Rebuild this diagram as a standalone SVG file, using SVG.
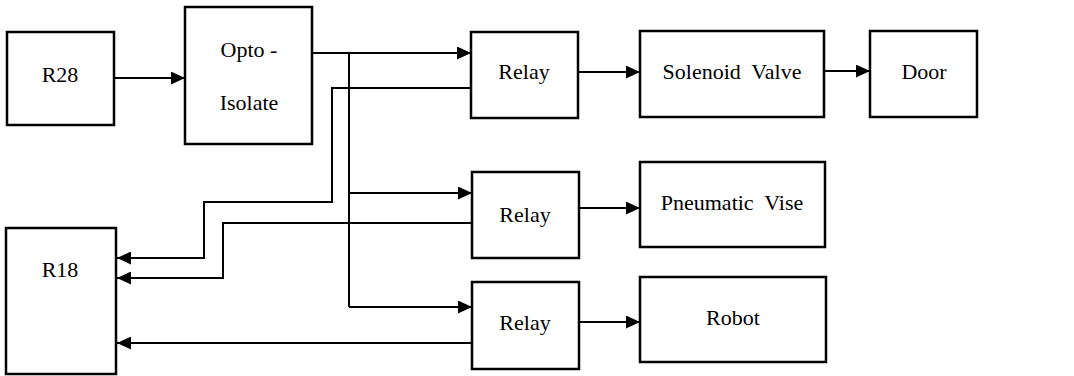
<svg xmlns="http://www.w3.org/2000/svg" width="1074" height="376" viewBox="0 0 1074 376">
  <style>
    .box { fill: #ffffff; stroke: #000000; stroke-width: 2.5; }
    .lbl { font-size: 22px; fill: #000000; text-anchor: middle; }
    .wire { fill: none; stroke: #000000; stroke-width: 2; }
    .arr { marker-end: url(#head); }
  </style>
  <defs>
    <marker id="head" markerUnits="userSpaceOnUse" markerWidth="15" markerHeight="13" refX="14" refY="6.5" orient="auto">
      <path d="M0,0 L14,6.5 L0,13 Z" fill="#000000"/>
    </marker>
  </defs>
  <rect width="1074" height="376" fill="#ffffff"/>

  <g id="connectors">
    <path class="wire arr" d="M114,78 H185"/>
    <path class="wire arr" d="M312,53 H471"/>
    <path class="wire" d="M349,53 V307"/>
    <path class="wire arr" d="M349,193 H472"/>
    <path class="wire arr" d="M349,307 H472"/>
    <path class="wire arr" d="M471,88 H332 V202 H204 V258 H117"/>
    <path class="wire arr" d="M472,223 H223 V278 H117"/>
    <path class="wire arr" d="M472,343 H117"/>
    <path class="wire arr" d="M578,72 H640"/>
    <path class="wire arr" d="M824,71 H870"/>
    <path class="wire arr" d="M579,208 H640"/>
    <path class="wire arr" d="M579,322 H640"/>
  </g>

  <g id="r28">
    <rect class="box" x="7" y="32" width="107" height="93"/>
    <text class="lbl" x="60" y="82" font-family="Liberation Serif">R28</text>
  </g>
  <g id="opto">
    <rect class="box" x="185" y="7" width="127" height="137"/>
    <text class="lbl" x="249" y="57" font-family="Liberation Serif">Opto -</text>
    <text class="lbl" x="249" y="110" font-family="Liberation Serif">Isolate</text>
  </g>
  <g id="r18">
    <rect class="box" x="6" y="228" width="110" height="146"/>
    <text class="lbl" x="60" y="277" font-family="Liberation Serif">R18</text>
  </g>
  <g id="relay1">
    <rect class="box" x="471" y="32" width="107" height="86"/>
    <text class="lbl" x="524" y="79" font-family="Liberation Serif">Relay</text>
  </g>
  <g id="relay2">
    <rect class="box" x="472" y="172" width="107" height="86"/>
    <text class="lbl" x="525" y="222" font-family="Liberation Serif">Relay</text>
  </g>
  <g id="relay3">
    <rect class="box" x="472" y="282" width="107" height="87"/>
    <text class="lbl" x="525" y="330" font-family="Liberation Serif">Relay</text>
  </g>
  <g id="solenoid">
    <rect class="box" x="640" y="31" width="184" height="86"/>
    <text class="lbl" x="732" y="79" font-family="Liberation Serif" xml:space="preserve">Solenoid  Valve</text>
  </g>
  <g id="door">
    <rect class="box" x="870" y="31" width="107" height="86"/>
    <text class="lbl" x="924" y="79" font-family="Liberation Serif">Door</text>
  </g>
  <g id="vise">
    <rect class="box" x="640" y="162" width="185" height="85"/>
    <text class="lbl" x="732" y="210" font-family="Liberation Serif" xml:space="preserve">Pneumatic  Vise</text>
  </g>
  <g id="robot">
    <rect class="box" x="640" y="277" width="186" height="85"/>
    <text class="lbl" x="733" y="325" font-family="Liberation Serif">Robot</text>
  </g>
</svg>
